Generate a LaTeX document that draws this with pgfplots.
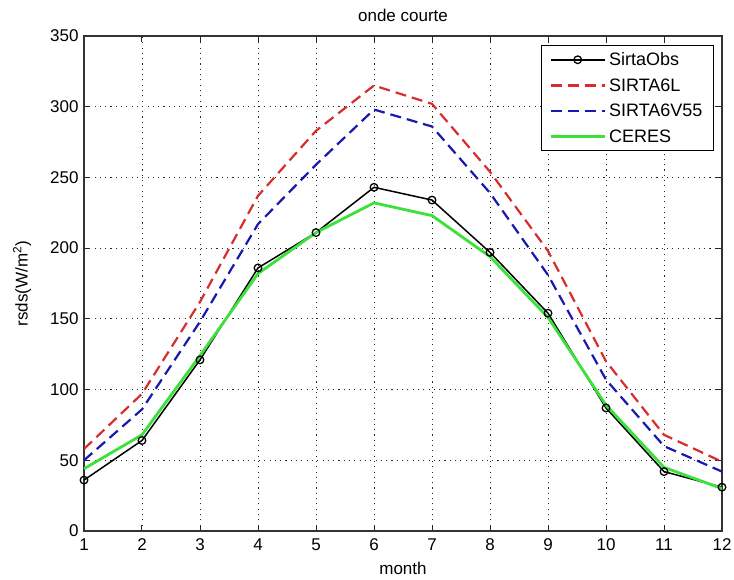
\documentclass[border=0pt]{standalone}
\usepackage{fontspec}
\setmainfont{Liberation Sans}
\usepackage{pgfplots}
\pgfplotsset{compat=1.18}
\definecolor{mred}{RGB}{215,45,45}
\definecolor{mblue}{RGB}{25,25,175}
\definecolor{mgreen}{RGB}{60,225,60}
\begin{document}
\begin{tikzpicture}
\begin{axis}[name=ax, scale only axis, width=638bp, height=495bp,
  xmin=1, xmax=12, ymin=0, ymax=350,
  xtick={1,...,12}, ytick={0,50,...,350},
  grid=major,
  major grid style={black!85, line width=0.9bp, dash pattern=on 1.1bp off 4.2bp},
  tick align=inside, major tick length=6bp,
  tick style={black!85, line width=1bp},
  axis line style={black!80, line width=1.2bp},
  /pgf/number format/assume math mode=true,
  tick label style={font=\fontsize{17bp}{20bp}\selectfont},
  xticklabel style={yshift=-4bp},
  yticklabel style={xshift=-2bp},
  title={onde courte},
  title style={font=\fontsize{17bp}{20bp}\selectfont, at={(axis description cs:0.5,1.0424)}, anchor=center, yshift=0pt},
  every axis title shift=0pt,
  xlabel={month},
  xlabel style={font=\fontsize{17bp}{20bp}\selectfont, at={(axis description cs:0.5,0)}, anchor=center, yshift=-37bp},
  ylabel={rsds(W/m\textsuperscript{2})},
  ylabel style={font=\fontsize{17bp}{20bp}\selectfont, at={(axis description cs:-0.097,0.5)}, anchor=center},
  legend cell align=left,
  legend image code/.code={\draw[mark repeat=2,mark phase=2,#1] plot coordinates {(0bp,0bp) (27bp,0bp) (54bp,0bp)};},
  legend style={at={(1,1)}, anchor=north east, xshift=-8bp, yshift=-9bp,
    font=\fontsize{18bp}{21bp}\selectfont, draw=black, line width=1bp,
    inner xsep=8bp, inner ysep=6bp, row sep=9.5bp,
    nodes={inner xsep=3bp, inner ysep=1bp}},
]
\addplot[black, line width=1.5bp, mark=o, mark size=3.8bp, mark options={solid, line width=1.3bp, fill=white}]
 coordinates {(1,36) (2,64) (3,121) (4,186) (5,211) (6,243) (7,234) (8,197) (9,154) (10,87) (11,42) (12,31)};
\addlegendentry{SirtaObs}
\addplot[mred, line width=2.2bp, dash pattern=on 11bp off 6bp]
 coordinates {(1,58) (2,97) (3,162) (4,237) (5,283) (6,315) (7,302) (8,254) (9,198) (10,120) (11,68) (12,49)};
\addlegendentry{SIRTA6L}
\addplot[mblue, line width=2.2bp, dash pattern=on 11bp off 6bp]
 coordinates {(1,50) (2,86) (3,148) (4,217) (5,259) (6,298) (7,286) (8,239) (9,181) (10,107) (11,60) (12,42)};
\addlegendentry{SIRTA6V55}
\addplot[mgreen, line width=2.8bp]
 coordinates {(1,44) (2,68) (3,124) (4,182) (5,211) (6,232) (7,223) (8,194) (9,151) (10,89) (11,45) (12,30)};
\addlegendentry{CERES}
\end{axis}
\pgfresetboundingbox
\path ([shift={(-84bp,-49bp)}]ax.south west) rectangle ([shift={(12bp,36bp)}]ax.north east);
\end{tikzpicture}
\end{document}
